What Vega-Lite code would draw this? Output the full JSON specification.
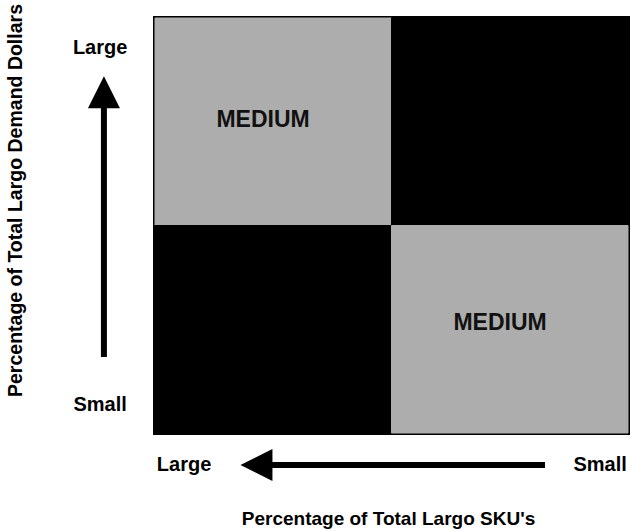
{
  "$schema": "https://vega.github.io/schema/vega-lite/v6.json",
  "width": 473,
  "height": 415,
  "autosize": "none",
  "padding": {"left": 155, "top": 18, "right": 3, "bottom": 98},
  "background": "white",
  "config": {
    "view": {"stroke": "black", "strokeWidth": 4},
    "font": "Liberation Sans"
  },
  "datasets": {
    "quadrants": [
      {"x0": 0, "x1": 1, "y0": 1, "y1": 2, "tone": "#adadad"},
      {"x0": 1, "x1": 2, "y0": 1, "y1": 2, "tone": "#000000"},
      {"x0": 0, "x1": 1, "y0": 0, "y1": 1, "tone": "#000000"},
      {"x0": 1, "x1": 2, "y0": 0, "y1": 1, "tone": "#adadad"}
    ],
    "cells": [
      {"x": 0.457, "y": 1.508, "label": "MEDIUM"},
      {"x": 1.459, "y": 0.53, "label": "MEDIUM"}
    ],
    "ends": [
      {"x": -0.232, "y": 1.855, "label": "Large"},
      {"x": -0.232, "y": 0.135, "label": "Small"},
      {"x": 0.123, "y": -0.154, "label": "Large"},
      {"x": 1.882, "y": -0.154, "label": "Small"}
    ],
    "shafts": [
      {"x": -0.216, "y": 0.366, "x2": -0.216, "y2": 1.6},
      {"x": 0.48, "y": -0.154, "x2": 1.649, "y2": -0.154}
    ],
    "upHead": [{"x": -0.216, "y": 1.642}],
    "leftHead": [{"x": 0.429, "y": -0.154}]
  },
  "layer": [
    {
      "data": {"name": "quadrants"},
      "mark": {"type": "rect", "strokeWidth": 1},
      "encoding": {
        "x": {"field": "x0", "type": "quantitative", "scale": {"domain": [0, 2], "nice": false, "zero": false},
          "axis": {"labels": false, "ticks": false, "domain": false, "grid": false,
            "title": "Percentage of Total Largo SKU's", "titleFontSize": 19, "titleFontWeight": "bold",
            "titleColor": "black", "titleX": 233, "titleY": 85, "titleBaseline": "middle", "titleAlign": "center", "titleFont": "Liberation Sans"}},
        "x2": {"field": "x1"},
        "y": {"field": "y0", "type": "quantitative", "scale": {"domain": [0, 2], "nice": false, "zero": false},
          "axis": {"labels": false, "ticks": false, "domain": false, "grid": false,
            "title": "Percentage of Total Largo Demand Dollars", "titleFontSize": 19.5, "titleFontWeight": "bold",
            "titleColor": "black", "titleX": -140, "titleY": 182, "titleAngle": -90, "titleBaseline": "middle", "titleAlign": "center", "titleFont": "Liberation Sans"}},
        "y2": {"field": "y1"},
        "color": {"field": "tone", "type": "nominal", "scale": null},
        "stroke": {"field": "tone", "type": "nominal", "scale": null}
      }
    },
    {
      "data": {"name": "cells"},
      "mark": {"type": "text", "fontSize": 23, "fontWeight": "bold", "color": "#111111", "font": "Liberation Sans"},
      "encoding": {
        "x": {"field": "x", "type": "quantitative"},
        "y": {"field": "y", "type": "quantitative"},
        "text": {"field": "label"}
      }
    },
    {
      "data": {"name": "ends"},
      "mark": {"type": "text", "fontSize": 20, "fontWeight": "bold", "color": "black", "font": "Liberation Sans"},
      "encoding": {
        "x": {"field": "x", "type": "quantitative"},
        "y": {"field": "y", "type": "quantitative"},
        "text": {"field": "label"}
      }
    },
    {
      "data": {"name": "shafts"},
      "mark": {"type": "rule", "strokeWidth": 6, "color": "black"},
      "encoding": {
        "x": {"field": "x", "type": "quantitative"},
        "y": {"field": "y", "type": "quantitative"},
        "x2": {"field": "x2"},
        "y2": {"field": "y2"}
      }
    },
    {
      "data": {"name": "upHead"},
      "mark": {"type": "point", "shape": "M0,-1L-1,1L1,1Z", "size": 1024, "filled": true, "color": "black", "opacity": 1},
      "encoding": {
        "x": {"field": "x", "type": "quantitative"},
        "y": {"field": "y", "type": "quantitative"}
      }
    },
    {
      "data": {"name": "leftHead"},
      "mark": {"type": "point", "shape": "M-1,0L1,-1L1,1Z", "size": 1024, "filled": true, "color": "black", "opacity": 1},
      "encoding": {
        "x": {"field": "x", "type": "quantitative"},
        "y": {"field": "y", "type": "quantitative"}
      }
    }
  ]
}
